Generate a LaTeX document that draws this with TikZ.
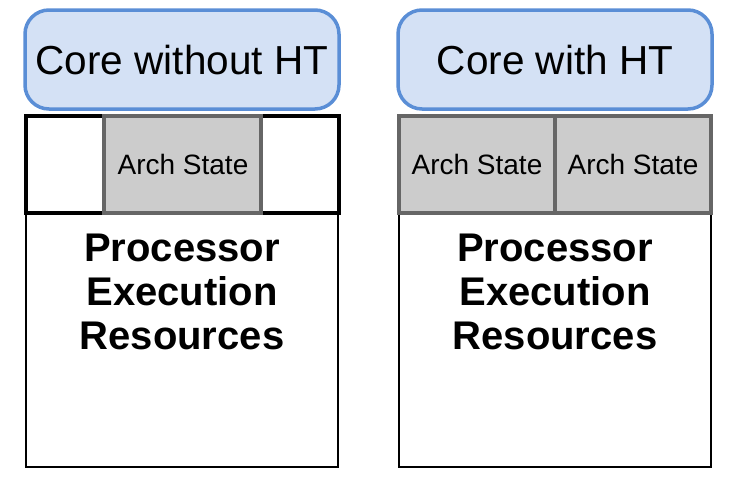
\documentclass[tikz,border=0pt]{standalone}
\usepackage{fontspec}
\setmainfont{Liberation Sans}
\definecolor{corefill}{HTML}{D4E1F5}
\definecolor{coreline}{HTML}{5A8ED6}
\definecolor{archfill}{HTML}{CCCCCC}
\definecolor{archline}{HTML}{666666}
\begin{document}
\begin{tikzpicture}[x=1pt,y=-1pt,
  corebox/.style={draw=coreline,fill=corefill,line width=3.5pt,rounded corners=24pt},
  archbox/.style={draw=archline,fill=archfill,line width=3.5pt},
  procbox/.style={draw=black,fill=white,line width=2.3pt},
  topbox/.style={draw=black,fill=white,line width=3.5pt},
  coretext/.style={font=\fontsize{40.5}{44}\selectfont},
  archtext/.style={font=\fontsize{28}{30}\selectfont},
  proctext/.style={font=\bfseries\fontsize{40}{44}\selectfont,align=center}]
\useasboundingbox (0,0) rectangle (730,483);
% left
\draw[procbox] (26,213) rectangle (338,467);
\draw[topbox] (26,116) rectangle (339,213);
\draw[archbox] (104,116) rectangle (261,213);
\draw[corebox] (25,10) rectangle (339,109);
\node[coretext] (c1) at (182,60) {Core without HT};
\node[archtext] (a1) at (183,164) {Arch State};
\node[proctext] (p1) at (182,292) {Processor\\Execution\\Resources};
% right
\draw[procbox] (399,213) rectangle (711,467);
\draw[archbox] (399,116) rectangle (555,213);
\draw[archbox] (555,116) rectangle (711,213);
\draw[corebox] (398,10) rectangle (712,109);
\node[coretext] (c2) at (555,60) {Core with HT};
\node[archtext] (a2) at (477,164) {Arch State};
\node[archtext] (a3) at (633,164) {Arch State};
\node[proctext] (p2) at (555,292) {Processor\\Execution\\Resources};
\end{tikzpicture}
\end{document}
